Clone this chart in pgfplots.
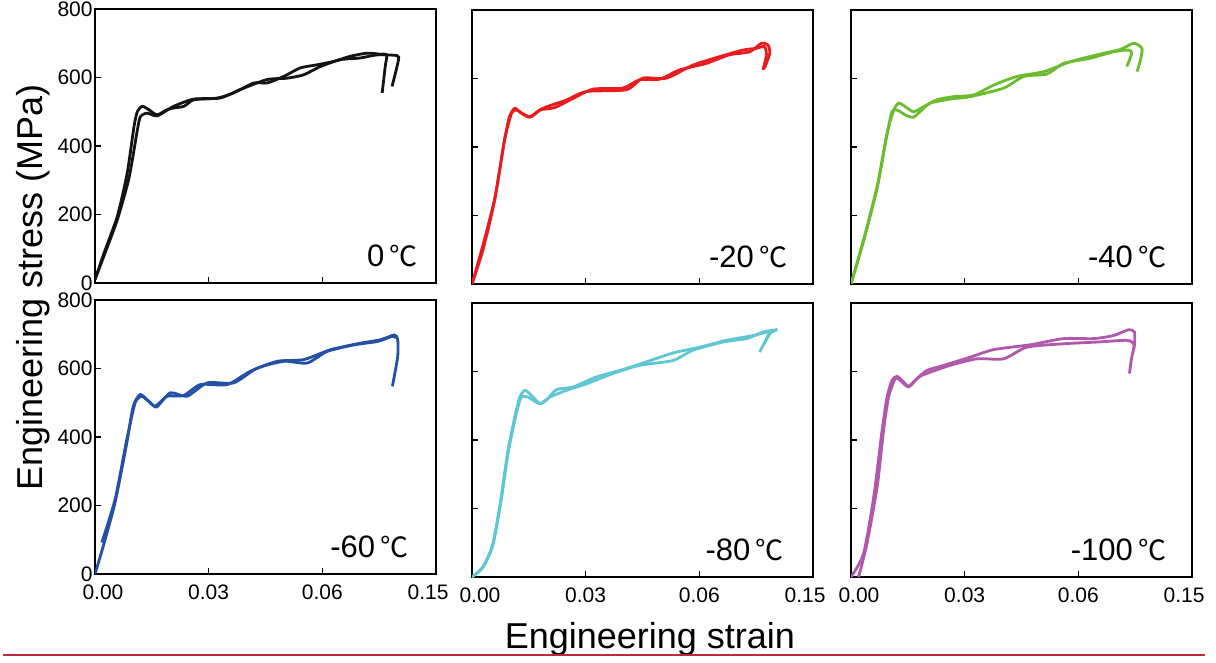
\documentclass[border=0pt]{standalone}
\usepackage{fontspec}
\setmainfont{Liberation Sans}
\newfontfamily\cjk{Noto Sans CJK SC}
\usepackage{pgfplots}
\pgfplotsset{compat=1.18}

\definecolor{cBlack}{RGB}{20,20,20}
\definecolor{cRed}{RGB}{232,28,30}
\definecolor{cGreen}{RGB}{108,188,48}
\definecolor{cBlue}{RGB}{36,80,166}
\definecolor{cCyan}{RGB}{96,198,210}
\definecolor{cPurple}{RGB}{176,88,172}
\definecolor{cRule}{RGB}{192,40,64}

\newcommand{\temp}[1]{\fontsize{15.5}{15.5}\selectfont #1\,{\cjk\fontsize{14}{14}\selectfont ℃}}

\pgfplotsset{
  panel/.style={
    scale only axis, width=170.5pt, height=137pt,
    xmin=0, xmax=0.09, ymin=0, ymax=800,
    scaled x ticks=false, scaled y ticks=false,
    axis line style={line width=1pt, black},
    tick align=inside, xtick pos=bottom, ytick pos=left,
    major tick length=3pt,
    tick style={line width=0.8pt, black},
    xtick={0.03,0.06}, ytick={0,200,400,600,800},
    xticklabels={}, yticklabels={},
    tick label style={font=\fontsize{10.5}{10.5}\selectfont},
    /pgf/number format/assume math mode=true,
    anchor=north west,
    every axis plot/.append style={line width=1.4pt, no markers, smooth, tension=0.4},
  },
  leftcol/.style={yticklabels={0,200,400,600,800},
    yticklabel style={inner sep=1pt}},
  bottomrow/.style={xticklabels={0.03,0.06},
    extra x ticks={0.0021,0.0879}, extra x tick labels={0.00,0.15},
    extra x tick style={major tick length=0pt},
    xticklabel style={yshift=-2pt}},
}

\begin{document}
\begin{tikzpicture}
\useasboundingbox (0,0) rectangle (608pt,-331.5pt);

% 0 C
\begin{axis}[panel, leftcol, at={(47.5pt,-4.5pt)}]
\addplot[cBlack] coordinates {(0,10) (0.0024,88) (0.0059,195) (0.0085,321) (0.0103,457) (0.0112,501) (0.0125,516) (0.0142,506) (0.0164,491) (0.019,506) (0.0208,511) (0.0235,516) (0.0261,535) (0.0323,540) (0.0366,555) (0.0419,584) (0.0454,584) (0.0498,603) (0.0542,628) (0.0586,637) (0.063,647) (0.0674,662) (0.0718,671) (0.0753,668) (0.077,666) (0.0766,632) (0.0758,555)};
\addplot[cBlack] coordinates {(0,10) (0.0024,80) (0.0059,185) (0.009,308) (0.0112,448) (0.012,486) (0.0138,496) (0.0164,488) (0.0208,516) (0.0261,537) (0.033,540) (0.0384,565) (0.0454,594) (0.0507,598) (0.0551,608) (0.0595,632) (0.0648,652) (0.07,657) (0.0745,666) (0.0797,664) (0.0801,652) (0.0793,613) (0.0784,574)};
\node[anchor=east, inner sep=0pt] at (rel axis cs:0.947,0.10) {\temp{0}};
\end{axis}

% -20 C
\begin{axis}[panel, at={(236pt,-5pt)}]
\addplot[cRed] coordinates {(0,0) (0.0029,100) (0.006,246) (0.0086,421) (0.0099,489) (0.0113,513) (0.013,499) (0.0152,487) (0.0179,508) (0.0218,515) (0.0267,542) (0.032,569) (0.0398,572) (0.0442,596) (0.0495,598) (0.0548,625) (0.0618,644) (0.0679,669) (0.0733,678) (0.0764,703) (0.0781,698) (0.0786,674) (0.0772,630)};
\addplot[cRed] coordinates {(0,0) (0.0027,106) (0.006,250) (0.0086,421) (0.0104,497) (0.0117,508) (0.0139,494) (0.0157,489) (0.0187,513) (0.0249,537) (0.0302,562) (0.0407,567) (0.0451,601) (0.0513,601) (0.0583,639) (0.0654,664) (0.0715,683) (0.075,688) (0.0772,693) (0.0777,669) (0.0768,625)};
\node[anchor=east, inner sep=0pt] at (rel axis cs:0.925,0.10) {\temp{-20}};
\end{axis}

% -40 C
\begin{axis}[panel, at={(425.5pt,-5pt)}]
\addplot[cGreen] coordinates {(0,0) (0.0033,129) (0.0069,285) (0.0095,440) (0.0113,508) (0.0126,528) (0.0143,518) (0.0165,503) (0.0192,518) (0.0227,538) (0.0271,547) (0.0324,552) (0.0377,581) (0.0438,606) (0.0509,620) (0.0579,649) (0.0649,669) (0.0711,685) (0.0746,703) (0.0768,688) (0.0764,654) (0.0755,620)};
\addplot[cGreen] coordinates {(0,0) (0.0033,124) (0.0069,280) (0.0095,435) (0.0108,503) (0.0121,508) (0.0148,491) (0.0165,487) (0.0187,508) (0.0209,528) (0.0262,540) (0.0315,547) (0.0403,572) (0.0456,606) (0.0517,613) (0.0561,644) (0.0631,659) (0.0693,678) (0.0732,683) (0.0741,674) (0.0728,635)};
\node[anchor=east, inner sep=0pt] at (rel axis cs:0.925,0.10) {\temp{-40}};
\end{axis}

% -60 C
\begin{axis}[panel, leftcol, bottomrow, at={(47.5pt,-150pt)}]
\addplot[cBlue] coordinates {(0,0) (0.0022,82) (0.0053,209) (0.0084,383) (0.0101,490) (0.0119,524) (0.0137,509) (0.0159,490) (0.019,519) (0.0234,521) (0.0278,553) (0.0349,553) (0.041,592) (0.0481,621) (0.0551,626) (0.0622,655) (0.0701,674) (0.0754,684) (0.079,698) (0.0799,684) (0.0799,635) (0.0785,548)};
\addplot[cBlue] coordinates {(0.0018,92) (0.0053,218) (0.0084,393) (0.0106,500) (0.0124,519) (0.0146,500) (0.0163,488) (0.0199,529) (0.0243,519) (0.0296,558) (0.0366,558) (0.0428,601) (0.0499,621) (0.056,616) (0.0613,650) (0.0684,669) (0.0746,679) (0.0785,694) (0.0794,689)};
\node[anchor=east, inner sep=0pt] at (rel axis cs:0.92,0.10) {\temp{-60}};
\end{axis}

% -80 C
\begin{axis}[panel, bottomrow, at={(236pt,-151.5pt)}]
\addplot[cCyan] coordinates {(0,0) (0.0029,29) (0.0055,97) (0.0077,234) (0.0095,370) (0.0113,467) (0.0126,525) (0.014,545) (0.0157,530) (0.0179,506) (0.0196,516) (0.0223,547) (0.0267,555) (0.0328,584) (0.039,603) (0.046,628) (0.053,654) (0.0601,671) (0.0671,691) (0.0742,705) (0.0803,722) (0.0786,710) (0.0759,657)};
\addplot[cCyan] coordinates {(0,0) (0.0029,29) (0.0055,92) (0.0077,224) (0.0095,360) (0.0117,477) (0.013,525) (0.0148,525) (0.0179,506) (0.0205,525) (0.0249,545) (0.0302,564) (0.0372,594) (0.0442,618) (0.053,632) (0.0583,662) (0.0662,686) (0.0724,696) (0.0768,715) (0.0794,720) (0.0781,705) (0.0772,681)};
\node[anchor=east, inner sep=0pt] at (rel axis cs:0.915,0.10) {\temp{-80}};
\end{axis}

% -100 C
\begin{axis}[panel, bottomrow, at={(425.5pt,-151.5pt)}]
\addplot[cPurple] coordinates {(0,0) (0.0033,68) (0.006,234) (0.0082,428) (0.0095,525) (0.0108,574) (0.0121,586) (0.0135,574) (0.0152,557) (0.0174,579) (0.02,603) (0.0245,618) (0.0315,642) (0.0377,664) (0.0473,678) (0.0561,696) (0.064,696) (0.0693,705) (0.0733,722) (0.0748,715) (0.0748,676) (0.0741,642) (0.0735,594)};
\addplot[cPurple] coordinates {(0.002,0) (0.0042,97) (0.0069,263) (0.0086,428) (0.0099,525) (0.0117,579) (0.013,574) (0.0152,555) (0.0179,584) (0.0209,598) (0.0262,618) (0.0332,637) (0.0403,637) (0.0464,671) (0.0561,681) (0.0649,686) (0.0728,691) (0.0746,681) (0.0746,666)};
\node[anchor=east, inner sep=0pt] at (rel axis cs:0.925,0.10) {\temp{-100}};
\end{axis}

\node[rotate=90, font=\fontsize{18}{18}\selectfont] at (16.5pt,-143.75pt) {Engineering stress (MPa)};
\node[anchor=base, font=\fontsize{18}{18}\selectfont] at (325pt,-324pt) {Engineering strain};
\draw[cRule, line width=0.7pt] (1.5pt,-327.5pt) -- (602.5pt,-327.5pt);
\end{tikzpicture}
\end{document}
